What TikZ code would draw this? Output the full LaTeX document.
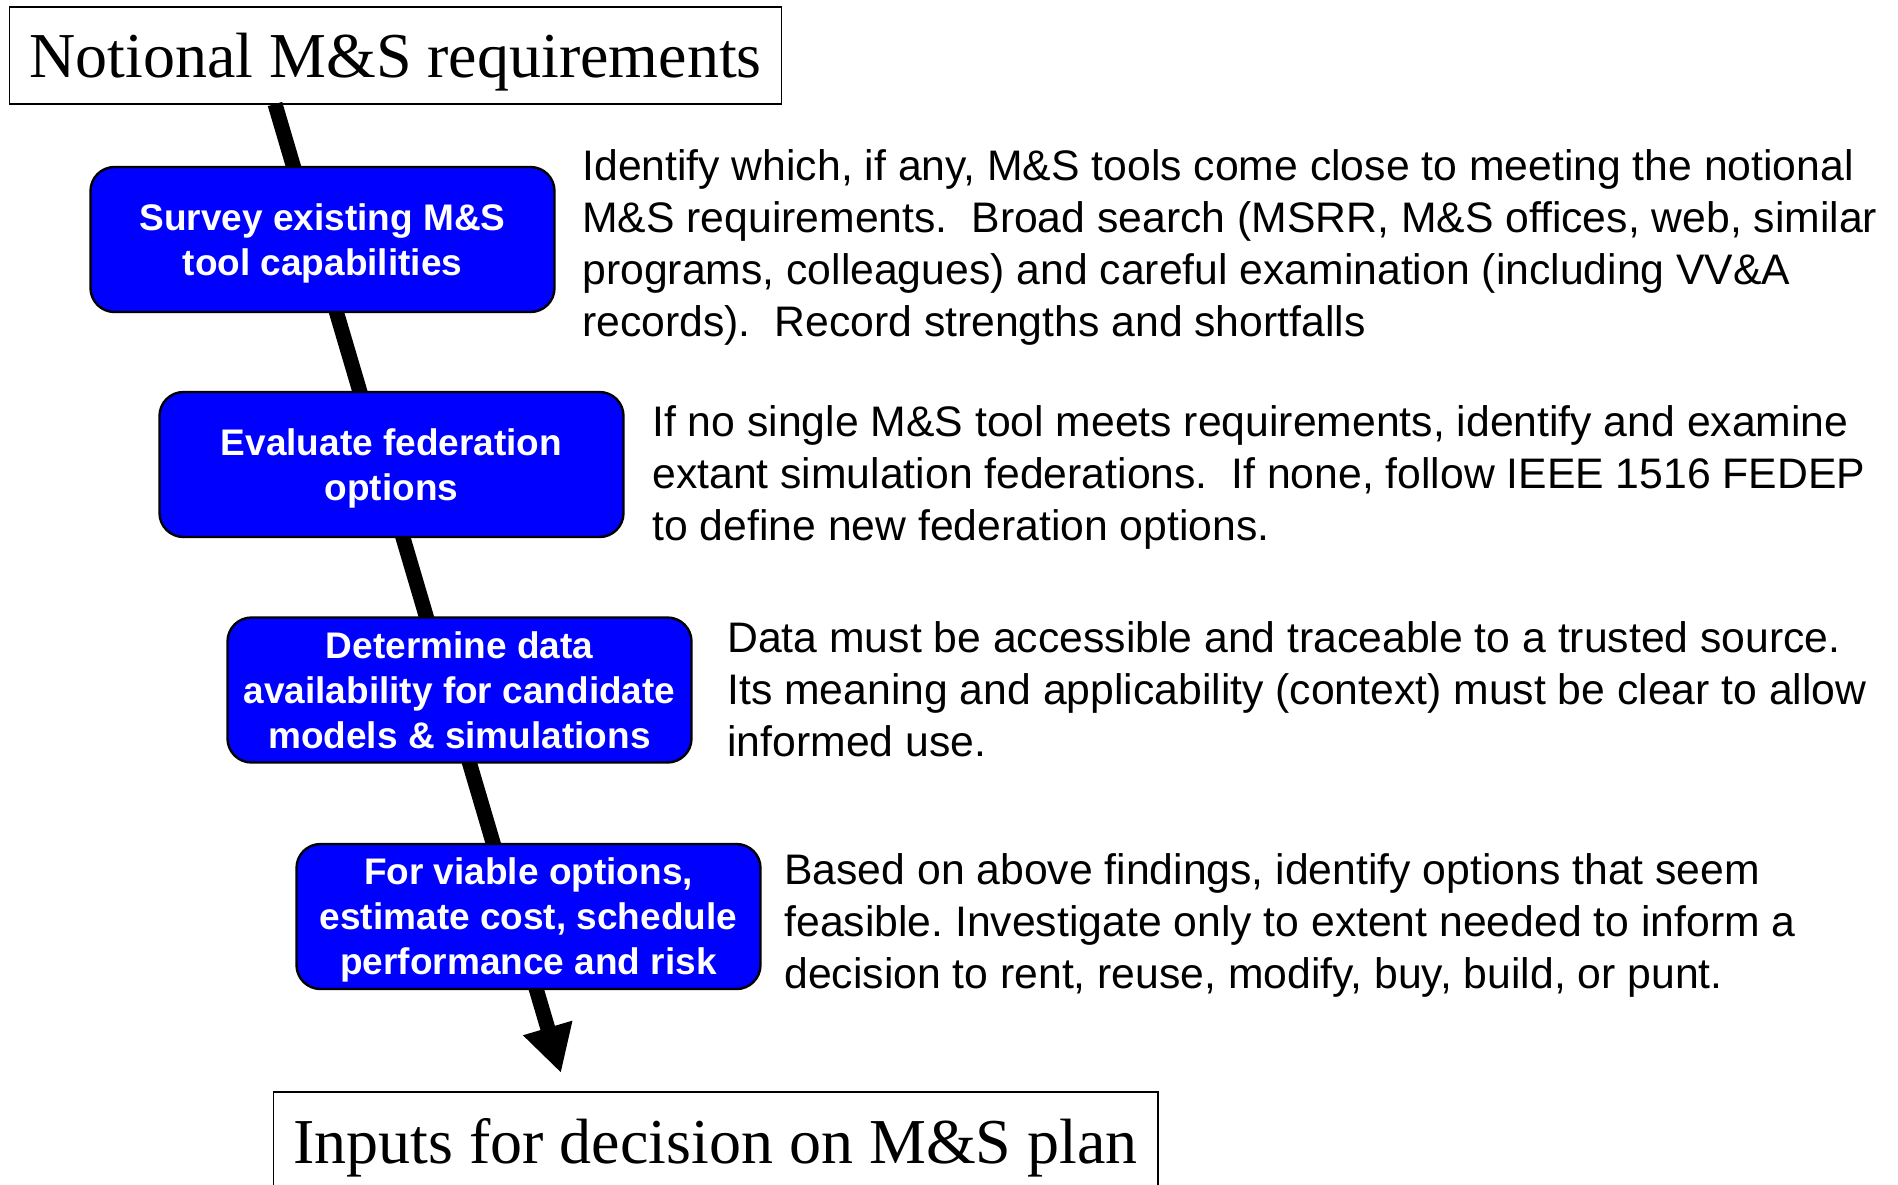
\documentclass[tikz,border=0pt]{standalone}
\usepackage{fontspec}
\setmainfont{Liberation Serif}
\setsansfont{Liberation Sans}
\usetikzlibrary{arrows.meta,backgrounds}
\frenchspacing

\begin{document}
\begin{tikzpicture}[x=0.5pt,y=-0.5pt,
    headbox/.style={draw=black,line width=0.8pt,minimum height=48.5pt,inner xsep=10pt,
        text depth=0pt,font=\fontsize{32}{38}\selectfont},
    stepbox/.style={draw=black,line width=1.2pt,fill=\BOXFILL,rounded corners=12pt,
        minimum width=232pt,minimum height=72.5pt,align=center,text=white,text depth=-2pt,
        font=\sffamily\bfseries\fontsize{18.5}{22.5}\selectfont},
    notetext/.style={anchor=west,align=left,inner sep=0pt,text depth=0pt,
        font=\sffamily\fontsize{21.35}{25.85}\selectfont}]

\def\BOXFILL{blue}
\def\FLOWCOLOR{black}
    \useasboundingbox (0,0) rectangle (1898,1184);

    \node[headbox] (need) at (395.5,55.5) {Notional M\&S requirements};
    \node[headbox] (plan) at (715.5,1140.5) {Inputs for decision on M\&S plan};

    \node[stepbox] (survey) at (322.5,239.5) {Survey existing M\&S\\tool capabilities};
    \node[stepbox] (federate) at (391.5,464.5) {Evaluate federation\\options};
    \node[stepbox] (data) at (459.5,690) {Determine data\\availability for candidate\\models \& simulations};
    \node[stepbox] (estimate) at (528.5,916.5) {For viable options,\\estimate cost, schedule\\performance and risk};

    \node[notetext] (surveynote) at (582,243) {Identify which, if any, M\&S tools come close to meeting the notional\\M\&S requirements.~ Broad search (MSRR, M\&S offices, web, similar\\programs, colleagues) and careful examination (including VV\&A\\records).~ Record strengths and shortfalls};
    \node[notetext] (federatenote) at (652,473) {If no single M\&S tool meets requirements, identify and examine\\extant simulation federations.~ If none, follow IEEE 1516 FEDEP\\to define new federation options.};
    \node[notetext] (datanote) at (727,689) {Data must be accessible and traceable to a trusted source.\\Its meaning and applicability (context) must be clear to allow\\informed use.};
    \node[notetext] (estimatenote) at (784,921) {Based on above findings, identify options that seem\\feasible. Investigate only to extent needed to inform a\\decision to rent, reuse, modify, buy, build, or punt.};

    \coordinate (flowstart) at (275,104);
    \coordinate (flowend) at (561,1073);
    \begin{scope}[on background layer]
        \draw[\FLOWCOLOR,line width=7.5pt,-{Triangle[width=24pt,length=23.5pt]}] (flowstart) -- (flowend);
    \end{scope}

\end{tikzpicture}
\end{document}
